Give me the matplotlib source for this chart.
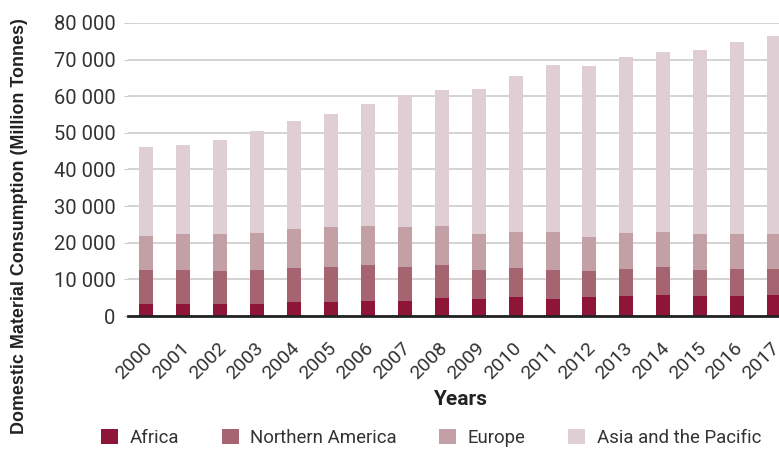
import matplotlib
matplotlib.use("Agg")
import matplotlib.pyplot as plt
import matplotlib.transforms as mtransforms
import numpy as np

years = [str(y) for y in range(2000, 2018)]
africa = [3200, 3200, 3360, 3360, 3820, 3820, 4190, 4190, 5050, 4640,
          5100, 4640, 5100, 5550, 5820, 5550, 5550, 5820]
northern_america = [9440, 9440, 8840, 9280, 9370, 9640, 9730, 9270, 8870, 8000,
                    8090, 8000, 7100, 7370, 7640, 7090, 7370, 7100]
europe = [9280, 9750, 10190, 10110, 10470, 10840, 10650, 10840, 10650, 9750,
          9830, 10380, 9460, 9830, 9560, 9750, 9470, 9470]
asia_pacific = [24140, 24290, 25660, 27670, 29490, 30850, 33310, 35950, 37040, 39490,
                42500, 45600, 46590, 47960, 48970, 50230, 52320, 54050]
series_names = ["Africa", "Northern America", "Europe", "Asia and the Pacific"]
colors = ["#8e1537", "#a5646f", "#c2a0a6", "#dfced3"]
yticks = [0, 10000, 20000, 30000, 40000, 50000, 60000, 70000, 80000]
ytick_labels = ["0", "10 000", "20 000", "30 000", "40 000", "50 000", "60 000", "70 000", "80 000"]

W, H = 779, 449
fig = plt.figure(figsize=(W / 100, H / 100), dpi=100)
ax_left = 128 / W
ax_bottom = (H - 316) / H
ax_height = 293 / H
ax_width = (792.5 - 128) / W
ax = fig.add_axes([ax_left, ax_bottom, ax_width, ax_height])

x = np.arange(len(years))
bottom = np.zeros(len(years))
for vals, name, col in zip([africa, northern_america, europe, asia_pacific], series_names, colors):
    ax.bar(x, vals, width=0.38, bottom=bottom, color=col, label=name, zorder=3, linewidth=0)
    bottom += np.array(vals)

ax.set_xlim(-0.5, len(years) - 0.5)
ax.set_ylim(0, 80000)
ax.set_yticks(yticks)
ax.set_yticklabels(ytick_labels, fontsize=14.5, color="#333333", family="Roboto")
ax.set_xticks(x)

ax.grid(axis="y", color="#cccccc", linewidth=1.2, zorder=0)
ax.set_axisbelow(True)
for s in ["top", "right", "left"]:
    ax.spines[s].set_visible(False)
ax.spines["bottom"].set_color("#222222")
ax.spines["bottom"].set_linewidth(2)
ax.spines["bottom"].set_zorder(4)
ax.tick_params(axis="y", length=3, color="#cccccc", pad=6)
ax.tick_params(axis="x", length=0, pad=21)

ax.set_xticklabels(years, fontsize=14, color="#333333", family="Roboto")
offset = mtransforms.ScaledTranslation(3 / 100, 0, fig.dpi_scale_trans)
for lab in ax.get_xticklabels():
    lab.set_rotation(45)
    lab.set_rotation_mode("anchor")
    lab.set_ha("right")
    lab.set_va("center")
    lab.set_transform(lab.get_transform() + offset)

ax.set_xlabel("Years", fontsize=15, fontweight="bold", family="Roboto", color="#222222", labelpad=5)
fig.text(20 / W, 1 - 226 / H, "Domestic Material Consumption (Million Tonnes)", rotation=90,
         fontsize=12.9, fontweight="bold", family="Liberation Sans", color="#222222",
         ha="center", va="center", transform=fig.transFigure)

handles, labels = ax.get_legend_handles_labels()
leg = fig.legend(handles, labels, loc="center", bbox_to_anchor=(431 / W, 1 - 438 / H), ncol=4,
                 frameon=False, prop={"family": "Roboto", "size": 13.4},
                 handlelength=0.92, handleheight=0.9, handletextpad=0.6, columnspacing=2.3)
for t in leg.get_texts():
    t.set_color("#333333")

fig.savefig("out.png", dpi=100)
